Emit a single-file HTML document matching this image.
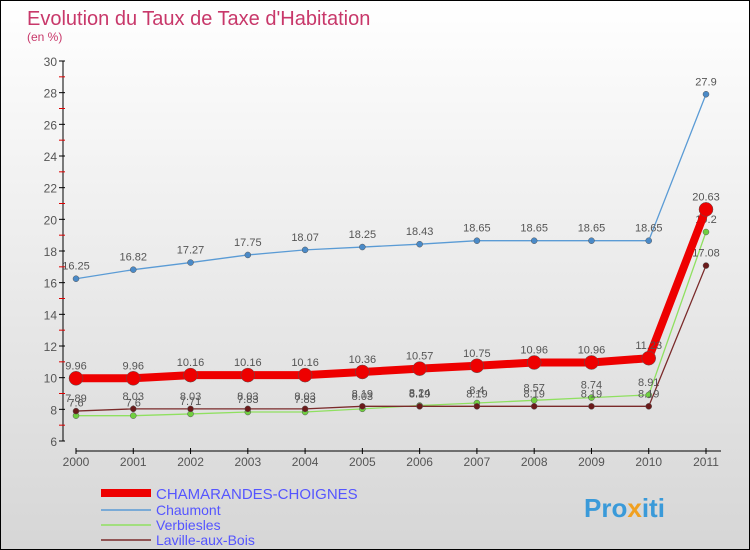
<!DOCTYPE html>
<html><head><meta charset="utf-8"><style>
body{margin:0}
#c{width:748px;height:548px;border:1px solid #000;background:linear-gradient(#fff,#d6d6d6);position:relative;font-family:"Liberation Sans",sans-serif;overflow:hidden}
</style></head><body>
<div id="c">
<svg id="s" width="748" height="548" style="position:absolute;left:0;top:0">
<text x="26" y="24" font-size="20" fill="#c8386a">Evolution du Taux de Taxe d'Habitation</text>
<text x="26" y="40" font-size="12" fill="#c8386a">(en %)</text>
<g id="g"></g>
<g>
<line x1="100" y1="492" x2="150" y2="492" stroke="#e00" stroke-width="8"/>
<text x="155" y="498" font-size="15" fill="#55f">CHAMARANDES-CHOIGNES</text>
<line x1="100" y1="509" x2="150" y2="509" stroke="#5a9bd5" stroke-width="1.5"/>
<text x="155" y="514" font-size="14" fill="#55f">Chaumont</text>
<line x1="100" y1="524" x2="150" y2="524" stroke="#8fe060" stroke-width="1.5"/>
<text x="155" y="529" font-size="14" fill="#55f">Verbiesles</text>
<line x1="100" y1="539" x2="150" y2="539" stroke="#7a2a2a" stroke-width="1.5"/>
<text x="155" y="544" font-size="14" fill="#55f">Laville-aux-Bois</text>
</g>
<text x="583" y="516" font-size="26" font-weight="bold" fill="#3a9ad9">Pro<tspan fill="#f0a020">x</tspan>iti</text>
</svg>
</div>
<script>
const years=[2000,2001,2002,2003,2004,2005,2006,2007,2008,2009,2010,2011];
const chamarandes=[9.96,9.96,10.16,10.16,10.16,10.36,10.57,10.75,10.96,10.96,11.23,20.63];
const chaumont=[16.25,16.82,17.27,17.75,18.07,18.25,18.43,18.65,18.65,18.65,18.65,27.9];
const verbiesles=[7.6,7.6,7.71,7.83,7.83,8.03,8.24,8.4,8.57,8.74,8.91,19.2];
const laville=[7.89,8.03,8.03,8.03,8.03,8.19,8.19,8.19,8.19,8.19,8.19,17.08];
const yTicks=[6,8,10,12,14,16,18,20,22,24,26,28,30];
const NS='http://www.w3.org/2000/svg';
const g=document.getElementById('g');
const X=i=>75+i*(630/(years.length-1));
const Y=v=>440-(v-6)*(380/24);
function el(t,a){const e=document.createElementNS(NS,t);for(const k in a)e.setAttribute(k,a[k]);g.appendChild(e);return e;}
let ax=el('line',{x1:62,y1:Y(30),x2:62,y2:Y(6),stroke:'#000'});


for(let v=6;v<=30;v++){const t=el('line',{x1:58,x2:64,y1:Y(v),y2:Y(v),stroke:v%2?'#d00':'#000'});

}
yTicks.forEach(v=>{const t=el('text',{x:56,y:Y(v)+5,'font-size':12,fill:'#555','text-anchor':'end'});t.textContent=v;

});
let xa=el('line',{x1:75,y1:450,x2:720,y2:450,stroke:'#000'});


years.forEach((y,i)=>{const tk=el('line',{x1:X(i),x2:X(i),y1:447,y2:453,stroke:'#000'});


const t=el('text',{x:X(i),y:465,'font-size':12,fill:'#555','text-anchor':'middle'});t.textContent=y;

});
function series(d,col,w,r,name,dot){
const p=el('polyline',{points:d.map((v,i)=>X(i)+','+Y(v)).join(' '),fill:'none',stroke:col,'stroke-width':w});


d.forEach((v,i)=>{const c=el('circle',{cx:X(i),cy:Y(v),r:r,fill:dot,stroke:'#555','stroke-width':0.5});


const t=el('text',{x:X(i),y:Y(v)-9,'font-size':11,fill:'#555','text-anchor':'middle'});t.textContent=v;

});}
series(chaumont,'#5a9bd5',1.3,3,'chaumont','#4a8ac8');
series(verbiesles,'#8fe060',1.3,3,'verbiesles','#70d040');
series(laville,'#7a2a2a',1.3,3,'laville','#6a1a1a');
series(chamarandes,'#e00',8,7,'chamarandes','#e00');
</script>
</body></html>
